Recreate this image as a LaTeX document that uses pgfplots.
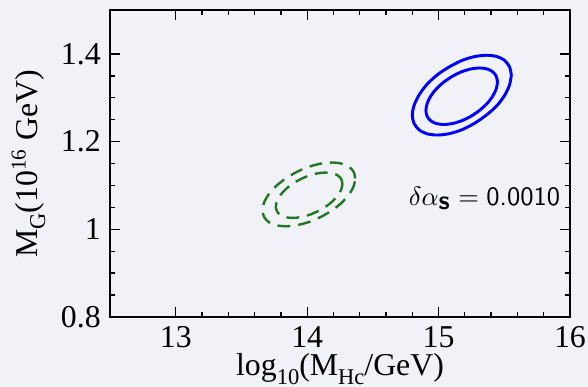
\documentclass[border=0pt]{standalone}
\usepackage{pgfplots}
\pgfplotsset{compat=1.18}
\usepackage{fontspec}
\setmainfont{Liberation Serif}
\definecolor{bgc}{RGB}{241,241,248}
\definecolor{dgreen}{RGB}{34,119,34}
\pagecolor{bgc}
\newcommand\sub[1]{\raisebox{-0.55ex}{\fontsize{8.5}{9}\selectfont #1}}
\begin{document}
\begin{tikzpicture}
\begin{axis}[
  scale only axis, width=172.9bp, height=115.4bp,
  xmin=12.5, xmax=16, ymin=0.8, ymax=1.5,
  xtick={13,14,15,16}, ytick={0.8,1,1.2,1.4},
  minor x tick num=4, minor y tick num=3,
  tick align=inside, tick pos=both,
  major tick length=3.8bp, minor tick length=1.9bp,
  axis line style={line width=0.6bp},
  tick style={black, line width=0.5bp},
  /pgf/number format/assume math mode=true,
  ticklabel style={font=\fontsize{12}{14}\selectfont},
  label style={font=\fontsize{12}{14}\selectfont},
  xlabel={log\sub{10}(M\sub{Hc}/GeV)},
  ylabel={M\sub{G}(10\textsuperscript{16} GeV)},
  xlabel style={yshift=4.5bp},
  ylabel style={yshift=-1bp},
]
\addplot[blue, line width=1.1bp, smooth] coordinates {
(15.554,1.352) (15.541,1.370) (15.504,1.385) (15.444,1.394) (15.366,1.397) (15.275,1.394)
(15.177,1.385) (15.079,1.370) (14.989,1.352) (14.910,1.330) (14.851,1.306) (14.813,1.282)
(14.800,1.261) (14.813,1.242) (14.851,1.227) (14.910,1.218) (14.989,1.215) (15.079,1.218)
(15.177,1.227) (15.275,1.242) (15.366,1.261) (15.444,1.282) (15.504,1.306) (15.541,1.330)
(15.554,1.352)};
\addplot[blue, line width=1.1bp, smooth] coordinates {
(15.449,1.3358) (15.439,1.3491) (15.412,1.3594) (15.369,1.3658) (15.312,1.368) (15.247,1.3658)
(15.176,1.3594) (15.106,1.3491) (15.040,1.3358) (14.983,1.3202) (14.940,1.3035) (14.913,1.2868)
(14.904,1.2712) (14.913,1.2579) (14.940,1.2476) (14.983,1.2412) (15.040,1.239) (15.106,1.2412)
(15.176,1.2476) (15.247,1.2579) (15.312,1.2712) (15.369,1.2868) (15.412,1.3035) (15.439,1.3202)
(15.449,1.3358)};
\addplot[dgreen, line width=0.9bp, smooth, dash pattern=on 4.8bp off 3bp] coordinates {
(14.366,1.116) (14.354,1.131) (14.319,1.1426) (14.263,1.1498) (14.190,1.1523) (14.104,1.1498)
(14.013,1.1426) (13.922,1.131) (13.837,1.116) (13.763,1.0984) (13.707,1.0796) (13.672,1.0608)
(13.660,1.0432) (13.672,1.0282) (13.707,1.0166) (13.763,1.0094) (13.837,1.0069) (13.922,1.0094)
(14.013,1.0166) (14.104,1.0282) (14.190,1.0432) (14.263,1.0608) (14.319,1.0796) (14.354,1.0984)
(14.366,1.116)};
\addplot[dgreen, line width=0.9bp, smooth, dash pattern=on 4.8bp off 3bp] coordinates {
(14.2685,1.1036) (14.2599,1.1143) (14.2345,1.1226) (14.1943,1.1277) (14.1418,1.1295) (14.0806,1.1277)
(14.015,1.1226) (13.9494,1.1143) (13.8882,1.1036) (13.8357,1.0911) (13.7955,1.0777) (13.7701,1.0643)
(13.7615,1.0518) (13.7701,1.0411) (13.7955,1.0328) (13.8357,1.0277) (13.8882,1.0259) (13.9494,1.0277)
(14.015,1.0328) (14.0806,1.0411) (14.1418,1.0518) (14.1943,1.0643) (14.2345,1.0777) (14.2599,1.0911)
(14.2685,1.1036)};
\node[anchor=west, inner sep=0pt] at (axis cs:14.77,1.071) {$\delta\alpha_{\textsf{\bfseries s}} = \mbox{\sffamily 0.0010}$};
\end{axis}
\pgfresetboundingbox
\path[use as bounding box] ([xshift=-41.4bp,yshift=-26.3bp]current axis.south west) rectangle ([xshift=6.8bp,yshift=3.8bp]current axis.north east);
\end{tikzpicture}
\end{document}
